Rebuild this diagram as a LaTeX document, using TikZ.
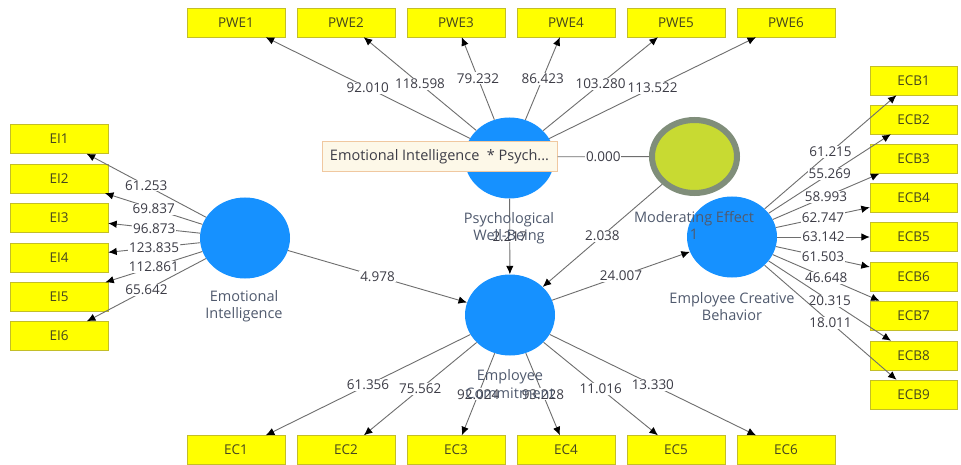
\documentclass[tikz,border=0pt]{standalone}
\usepackage{fontspec}
\setmainfont{Open Sans}
\usetikzlibrary{shapes.geometric,arrows.meta}
\definecolor{lvblue}{RGB}{22,145,255}
\definecolor{modfill}{RGB}{200,218,50}
\definecolor{modborder}{RGB}{128,142,122}
\definecolor{indfill}{RGB}{255,255,0}
\definecolor{indborder}{RGB}{195,190,40}
\definecolor{indtext}{RGB}{70,70,30}
\definecolor{edgegray}{RGB}{110,110,110}
\definecolor{lbltext}{RGB}{60,60,70}
\definecolor{nametext}{RGB}{80,90,110}
\definecolor{tipfill}{RGB}{253,248,232}
\definecolor{tipborder}{RGB}{240,200,160}
\newcommand{\fsz}{\fontsize{13.5}{17.5}\selectfont}
\newcommand{\fszname}{\fontsize{14.5}{17.5}\selectfont}
\begin{document}
\begin{tikzpicture}[x=1pt,y=-1pt,
  ind/.style={draw=indborder, fill=indfill, minimum height=29pt, inner sep=0pt, text=indtext, font=\fsz},
  indw/.style={ind, minimum width=98pt},
  indn/.style={ind, minimum width=87pt},
  lv/.style={ellipse, fill=lvblue, minimum width=90pt, minimum height=81pt, inner sep=0pt},
  modlv/.style={ellipse, draw=modborder, line width=6pt, fill=modfill, minimum width=85pt, minimum height=73pt, inner sep=0pt},
  edge/.style={draw=edgegray, line width=0.9pt, -{Latex[length=8.5pt,width=7.5pt,color=black]}},
  plainedge/.style={draw=edgegray, line width=0.9pt},
  lbl/.style={fill=white, inner sep=1pt, text=lbltext, font=\fsz},
  lvname/.style={align=center, text=nametext, font=\fszname, inner sep=0pt},
  tipbox/.style={draw=tipborder, fill=tipfill, line width=1pt, minimum width=235pt, minimum height=30pt, inner sep=0pt, text=lbltext, font=\fszname}]
\useasboundingbox[fill=white] (0,0) rectangle (961,465);

% latent variables
\node[lv] (ei) at (245,238) {};
\node[lv] (pwb) at (509.5,158) {};
\node[lv] (ec) at (510,315) {};
\node[lv] (ecb) at (732,237) {};
\node[modlv] (mod) at (694.5,156.5) {};

% indicators
\foreach \i/\x in {1/236,2/346,3/456,4/566,5/676,6/786}{
  \node[indw] (pwe\i) at (\x,22.5) {PWE\i};
  \node[indw] (ecx\i) at (\x,450) {EC\i};
}
\foreach \i/\y in {1/139,2/178.5,3/218,4/257.5,5/297,6/336}{
  \node[indw] (ei\i) at (59,\y) {EI\i};
}
\foreach \i/\y in {1/80.5,2/119.5,3/159,4/198,5/237,6/276.5,7/315.5,8/355.5,9/394.5}{
  \node[indn] (ecb\i) at (913.5,\y) {ECB\i};
}

% outer loadings
\foreach \i/\v in {1/92.010,2/118.598,3/79.232,4/86.423,5/103.280,6/113.522}{
  \draw[edge] (pwb) -- node[lbl]{\v} (pwe\i);
}
\foreach \i/\v in {1/61.356,2/75.562,3/92.024,4/93.228,5/11.016,6/13.330}{
  \draw[edge] (ec) -- node[lbl]{\v} (ecx\i);
}
\foreach \i/\v in {1/61.253,2/69.837,3/96.873,4/123.835,5/112.861,6/65.642}{
  \draw[edge] (ei) -- node[lbl]{\v} (ei\i);
}
\foreach \i/\v in {1/61.215,2/55.269,3/58.993,4/62.747,5/63.142,6/61.503,7/46.648,8/20.315,9/18.011}{
  \draw[edge] (ecb) -- node[lbl]{\v} (ecb\i);
}

% inner model
\draw[edge] (ei) -- node[lbl]{4.978} (ec);
\draw[edge] (pwb) -- node[lbl]{2.217} (ec);
\draw[edge] (mod) -- node[lbl]{2.038} (ec);
\draw[edge] (ec) -- node[lbl]{24.007} (ecb);

% tooltip over the moderator indicator
\node[tipbox] (tip) at (439.5,157) {Emotional Intelligence \ * Psych...};
\draw[plainedge] (mod) -- node[lbl]{0.000} (tip);

% latent variable names
\node[lvname] (einame) at (244,306) {Emotional\\Intelligence};
\node[lvname] (pwbname) at (509,228) {Psychological\\Well-Being};
\node[lvname] (ecname) at (510,384) {Employee\\Commitment};
\node[lvname] (modname) at (694,225.5) {Moderating Effect\\1};
\node[lvname] (ecbname) at (732,306.5) {Employee Creative\\Behavior};
\end{tikzpicture}
\end{document}
